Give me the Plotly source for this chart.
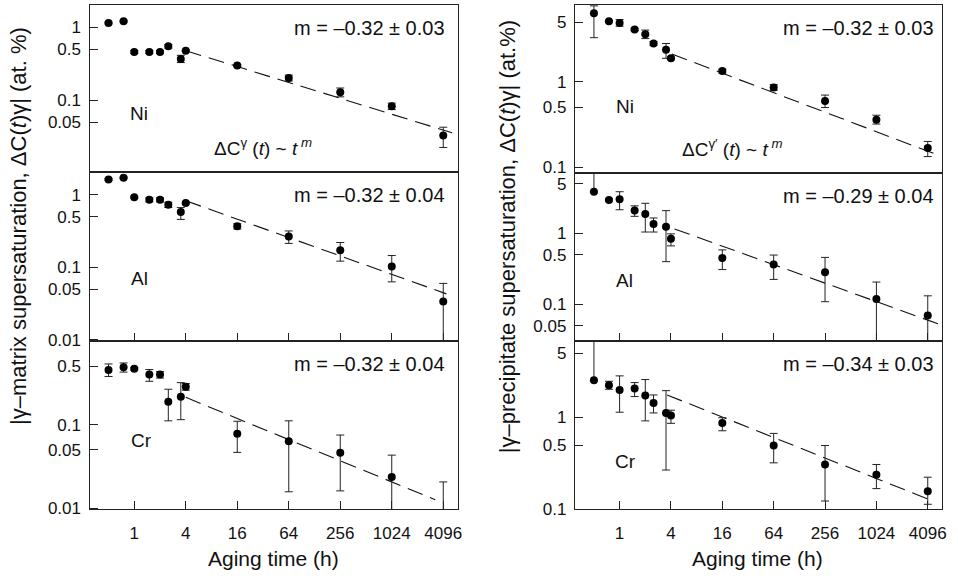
import plotly.graph_objects as go

# ---------------- data ----------------
times = [0.5, 0.75, 1, 1.5, 2, 2.5, 3.5, 4, 16, 64, 256, 1024, 4096]
x_tick_vals = [1, 4, 16, 64, 256, 1024, 4096]
x_tick_text = ["1", "4", "16", "64", "256", "1024", "4096"]

# gamma-matrix (left column)
mat_ni = [1.15, 1.21, 0.46, 0.46, 0.46, 0.55, 0.37, 0.48, 0.30, 0.203, 0.129, 0.083, 0.033]
mat_ni_hi = [1.18, 1.24, 0.48, 0.48, 0.48, 0.58, 0.415, 0.49, 0.31, 0.222, 0.148, 0.092, 0.043]
mat_ni_lo = [1.12, 1.18, 0.44, 0.44, 0.44, 0.52, 0.33, 0.47, 0.29, 0.185, 0.112, 0.075, 0.0227]

mat_al = [1.63, 1.72, 0.93, 0.855, 0.855, 0.73, 0.58, 0.77, 0.368, 0.266, 0.172, 0.103, 0.0338]
mat_al_hi = [1.68, 1.76, 0.96, 0.91, 0.91, 0.79, 0.668, 0.79, 0.40, 0.318, 0.220, 0.1455, 0.060]
mat_al_lo = [1.58, 1.68, 0.90, 0.80, 0.80, 0.67, 0.459, 0.75, 0.338, 0.214, 0.1217, 0.063, 0.005]

mat_cr = [0.452, 0.486, 0.465, 0.398, 0.398, 0.188, 0.216, 0.283, 0.0778, 0.063, 0.046, 0.0236, 0.007]
mat_cr_hi = [0.532, 0.547, 0.48, 0.456, 0.431, 0.265, 0.318, 0.31, 0.1096, 0.111, 0.075, 0.0431, 0.0206]
mat_cr_lo = [0.377, 0.425, 0.45, 0.33, 0.361, 0.111, 0.1146, 0.258, 0.0465, 0.0157, 0.0161, 0.009, 0.005]

# gamma'-precipitate (right column)
ppt_ni = [6.4, 5.13, 4.92, 4.12, 3.61, 2.82, 2.38, 1.89, 1.34, 0.859, 0.597, 0.36, 0.167]
ppt_ni_hi = [7.8, 5.25, 5.38, 4.25, 4.05, 2.97, 2.82, 1.96, 1.41, 0.93, 0.70, 0.406, 0.20]
ppt_ni_lo = [3.3, 5.0, 4.5, 3.99, 3.22, 2.68, 1.89, 1.82, 1.27, 0.795, 0.50, 0.32, 0.133]

ppt_al = [3.84, 2.94, 3.0, 2.09, 1.86, 1.35, 1.23, 0.838, 0.448, 0.362, 0.283, 0.1185, 0.0695]
ppt_al_hi = [12, 3.05, 3.84, 2.43, 2.64, 1.64, 2.08, 0.98, 0.583, 0.493, 0.457, 0.2055, 0.1315]
ppt_al_lo = [3.8, 2.83, 2.14, 1.73, 1.04, 1.04, 0.398, 0.664, 0.308, 0.224, 0.1087, 0.02, 0.02]

ppt_cr = [2.55, 2.25, 1.99, 2.07, 1.73, 1.435, 1.12, 1.05, 0.871, 0.494, 0.307, 0.2365, 0.157]
ppt_cr_hi = [12, 2.48, 2.84, 2.40, 2.59, 1.76, 1.96, 1.20, 0.993, 0.67, 0.494, 0.307, 0.223]
ppt_cr_lo = [2.52, 2.03, 1.14, 1.69, 0.917, 1.12, 0.267, 0.863, 0.716, 0.32, 0.1227, 0.1675, 0.113]

# power-law fit lines (endpoints)
fit_mat_ni_t, fit_mat_ni_v = [4, 5200], [0.48, 0.036]
fit_mat_al_t, fit_mat_al_v = [4, 4460], [0.83, 0.043]
fit_mat_cr_t, fit_mat_cr_v = [4, 3300], [0.212, 0.0126]
fit_ppt_ni_t, fit_ppt_ni_v = [4.1, 4780], [2.12, 0.145]
fit_ppt_al_t, fit_ppt_al_v = [4.4, 5470], [1.15, 0.0528]
fit_ppt_cr_t, fit_ppt_cr_v = [3.6, 4190], [1.76, 0.128]

slopes = ["m = –0.32 ± 0.03", "m = –0.32 ± 0.04", "m = –0.32 ± 0.04",
          "m = –0.32 ± 0.03", "m = –0.29 ± 0.04", "m = –0.34 ± 0.03"]
elements = ["Ni", "Al", "Cr"]

# y tick values per panel
yt_mat_ni = [1, 0.5, 0.1, 0.05, 0.01]
yt_mat_al = [1, 0.5, 0.1, 0.05, 0.01]
yt_mat_cr = [0.5, 0.1, 0.05, 0.01]
yt_ppt_ni = [5, 1, 0.5, 0.1]
yt_ppt_al = [5, 1, 0.5, 0.1, 0.05]
yt_ppt_cr = [5, 1, 0.5, 0.1]

# ---------------- layout geometry ----------------
W, H = 958, 585
FONT = "Liberation Sans, Arial, Helvetica, sans-serif"


def px(x):
    return x / W


def py(y):
    return 1 - y / H


panels = [
    # (vals, hi, lo, fit_t, fit_v, yticks, ylog_range, xdom_px, ydom_px, row)
    (mat_ni, mat_ni_hi, mat_ni_lo, fit_mat_ni_t, fit_mat_ni_v, yt_mat_ni, [-1.98, 0.308], (90, 460), (5, 175), 0),
    (mat_al, mat_al_hi, mat_al_lo, fit_mat_al_t, fit_mat_al_v, yt_mat_al, [-2.018, 0.316], (90, 460), (175, 347), 1),
    (mat_cr, mat_cr_hi, mat_cr_lo, fit_mat_cr_t, fit_mat_cr_v, yt_mat_cr, [-2.012, 0.0], (90, 460), (347, 518), 2),
    (ppt_ni, ppt_ni_hi, ppt_ni_lo, fit_ppt_ni_t, fit_ppt_ni_v, yt_ppt_ni, [-1.069, 0.903], (578, 947), (5, 176), 0),
    (ppt_al, ppt_al_hi, ppt_al_lo, fit_ppt_al_t, fit_ppt_al_v, yt_ppt_al, [-1.518, 0.848], (578, 947), (176, 347), 1),
    (ppt_cr, ppt_cr_hi, ppt_cr_lo, fit_ppt_cr_t, fit_ppt_cr_v, yt_ppt_cr, [-1.0, 0.833], (578, 947), (347, 518), 2),
]

fig = go.Figure()
layout = {}
annotations = []

for i, (vals, hi, lo, ft, fv, yticks, yr, xd, yd, row) in enumerate(panels):
    n = i + 1
    xa = "x" if n == 1 else f"x{n}"
    ya = "y" if n == 1 else f"y{n}"
    err_plus = [h - v for h, v in zip(hi, vals)]
    err_minus = [v - l for v, l in zip(vals, lo)]
    fig.add_trace(go.Scatter(
        x=ft, y=fv, mode="lines", xaxis=xa, yaxis=ya,
        line=dict(color="#111", width=1.1, dash="16px,8px"),
        showlegend=False, hoverinfo="skip"))
    fig.add_trace(go.Scatter(
        x=times, y=vals, mode="markers", xaxis=xa, yaxis=ya,
        marker=dict(color="#000", size=8),
        error_y=dict(type="data", symmetric=False, array=err_plus, arrayminus=err_minus,
                     color="#222", thickness=1, width=4),
        showlegend=False))

    xkey = "xaxis" if n == 1 else f"xaxis{n}"
    ykey = "yaxis" if n == 1 else f"yaxis{n}"
    layout[xkey] = dict(
        type="log", range=[-0.523, 3.78], domain=[px(xd[0]), px(xd[1])],
        anchor=ya, showgrid=False, zeroline=False,
        showline=True, mirror=True, linecolor="#222", linewidth=1.3,
        tickvals=x_tick_vals, ticktext=x_tick_text,
        ticks="" if row == 0 else "inside", ticklen=8, tickwidth=1, tickcolor="#222",
        showticklabels=(row == 2), ticklabelstandoff=8,
        tickfont=dict(family=FONT, size=17, color="#111"))
    layout[ykey] = dict(
        type="log", range=yr, domain=[py(yd[1]), py(yd[0])],
        anchor=xa, showgrid=False, zeroline=False,
        showline=True, mirror=True, linecolor="#222", linewidth=1.3,
        tickvals=yticks, ticktext=[f"{v:g}" for v in yticks],
        ticks="inside", ticklen=8, tickwidth=1, tickcolor="#222",
        ticklabelstandoff=4,
        tickfont=dict(family=FONT, size=17, color="#111"))

    # slope text
    col = 0 if i < 3 else 1
    top = yd[0]
    annotations.append(dict(
        x=px(449 if col == 0 else 941), y=py(top + 23), xref="paper", yref="paper",
        text=slopes[i], showarrow=False, xanchor="right", yanchor="middle",
        font=dict(family=FONT, size=20, color="#111")))

# element labels
elem_pos = [(140, 115), (140, 283), (142, 448), (628, 108), (628, 285), (629, 470)]
for i, (ex, ey) in enumerate(elem_pos):
    annotations.append(dict(
        x=px(ex), y=py(ey), xref="paper", yref="paper", text=elements[i % 3],
        showarrow=False, xanchor="center", yanchor="middle",
        font=dict(family=FONT, size=19, color="#111")))

# power-law formulas
annotations.append(dict(x=px(264), y=py(150), xref="paper", yref="paper",
                        text="ΔC<sup>γ</sup> (<i>t</i>) ~ <i>t</i><sup> <i>m</i></sup>",
                        showarrow=False, xanchor="center", yanchor="middle",
                        font=dict(family=FONT, size=19, color="#111")))
annotations.append(dict(x=px(736), y=py(151), xref="paper", yref="paper",
                        text="ΔC<sup>γ′</sup> (<i>t</i>) ~ <i>t</i><sup> <i>m</i></sup>",
                        showarrow=False, xanchor="center", yanchor="middle",
                        font=dict(family=FONT, size=19, color="#111")))

# axis titles
annotations.append(dict(x=px(18), y=py(230), xref="paper", yref="paper",
                        text="|γ–matrix supersaturation, ΔC(<i>t</i>)γ| (at. %)",
                        textangle=-90, showarrow=False, xanchor="center", yanchor="middle",
                        font=dict(family=FONT, size=22, color="#111")))
annotations.append(dict(x=px(511), y=py(241), xref="paper", yref="paper",
                        text="|γ–precipitate supersaturation, ΔC(<i>t</i>)γ| (at.%)",
                        textangle=-90, showarrow=False, xanchor="center", yanchor="middle",
                        font=dict(family=FONT, size=22, color="#111")))
annotations.append(dict(x=px(275), y=py(568), xref="paper", yref="paper",
                        text="Aging time (h)", showarrow=False,
                        xanchor="center", yanchor="middle",
                        font=dict(family=FONT, size=21, color="#111")))
annotations.append(dict(x=px(761), y=py(568), xref="paper", yref="paper",
                        text="Aging time (h)", showarrow=False,
                        xanchor="center", yanchor="middle",
                        font=dict(family=FONT, size=21, color="#111")))

fig.update_layout(
    width=W, height=H, margin=dict(l=0, r=0, t=0, b=0),
    paper_bgcolor="white", plot_bgcolor="white",
    annotations=annotations, **layout)

fig.write_html("out.html", config={"displayModeBar": False},
               post_script="document.body.style.margin='0px';")
